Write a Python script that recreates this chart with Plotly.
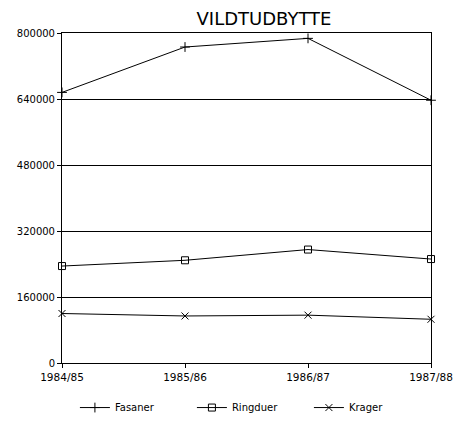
import plotly.graph_objects as go

seasons = ["1984/85", "1985/86", "1986/87", "1987/88"]
fasaner = [656000, 766000, 787000, 637000]
ringduer = [235000, 249000, 275000, 252000]
krager = [120000, 114000, 116000, 106000]
y_ticks = [0, 160000, 320000, 480000, 640000, 800000]

series = [
    ("Fasaner", fasaner, "cross-thin"),
    ("Ringduer", ringduer, "square-open"),
    ("Krager", krager, "x-thin"),
]

fig = go.Figure()
for name, vals, sym in series:
    fig.add_trace(go.Scatter(
        x=seasons, y=vals, name=name, mode="lines+markers",
        line=dict(color="black", width=1),
        marker=dict(symbol=sym, size=7, color="black",
                    line=dict(color="black", width=1)),
        cliponaxis=False,
    ))

fig.update_layout(
    width=456, height=424,
    margin=dict(l=62, r=25, t=33, b=61, autoexpand=False),
    paper_bgcolor="white", plot_bgcolor="white",
    font=dict(family="DejaVu Sans", color="black", size=10),
    title=dict(text="VILDTUDBYTTE", x=264 / 456, xanchor="center",
               y=1 - 19 / 424, yanchor="middle",
               font=dict(family="DejaVu Sans", size=18, color="black")),
    legend=dict(orientation="h", x=0.035, xanchor="left",
                y=-0.135, yanchor="middle",
                font=dict(family="DejaVu Sans", size=10, color="black"),
                entrywidth=72, entrywidthmode="pixels", itemwidth=30),
    showlegend=True,
)
fig.update_xaxes(
    type="category", range=[0, 3], showgrid=False,
    showline=True, linecolor="black", linewidth=1, mirror=True,
    ticks="outside", ticklen=4, tickcolor="black",
    tickfont=dict(family="DejaVu Sans", size=10.5, color="black"),
)
fig.update_yaxes(
    range=[0, 800000], tickvals=y_ticks, ticktext=[str(v) for v in y_ticks],
    showgrid=True, gridcolor="black", gridwidth=1, zeroline=False,
    showline=True, linecolor="black", linewidth=1, mirror=True,
    ticks="outside", ticklen=4, tickcolor="black",
    tickfont=dict(family="DejaVu Sans", size=10, color="black"),
)

fig.write_html("out.html")
